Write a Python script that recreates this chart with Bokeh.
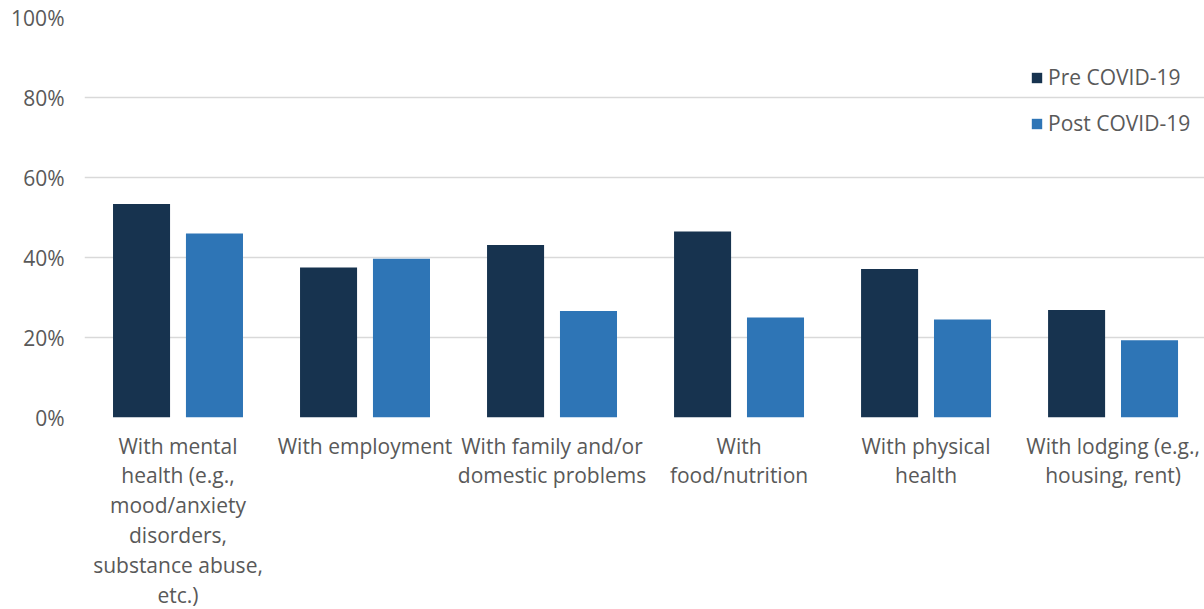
from bokeh.plotting import figure
from bokeh.models import ColumnDataSource, FixedTicker, Range1d, Legend, LegendItem
from bokeh.embed import file_html
from bokeh.resources import INLINE

categories = [
    "With mental\nhealth (e.g.,\nmood/anxiety\ndisorders,\nsubstance abuse,\netc.)",
    "With employment",
    "With family and/or\ndomestic problems",
    "With\nfood/nutrition",
    "With physical\nhealth",
    "With lodging (e.g.,\nhousing, rent)",
]
series_names = ["Pre COVID-19", "Post COVID-19"]
pre_values = [0.534, 0.375, 0.431, 0.465, 0.371, 0.269]
post_values = [0.460, 0.397, 0.266, 0.250, 0.245, 0.193]
y_ticks = [0, 0.2, 0.4, 0.6, 0.8, 1.0]
y_tick_labels = ["0%", "20%", "40%", "60%", "80%", "100%"]

PRE_COLOR = "#17334F"
POST_COLOR = "#2E75B6"
TEXT_COLOR = "#595959"
GRID_COLOR = "#D9D9D9"
FONT = "Open Sans"

centers = [i + 0.5 for i in range(len(categories))]
offset = 0.195
bar_w = 0.305

src_pre = ColumnDataSource(dict(x=[c - offset for c in centers], top=pre_values))
src_post = ColumnDataSource(dict(x=[c + offset for c in centers], top=post_values))

p = figure(frame_width=1120, frame_height=400, output_backend="svg", toolbar_location=None,
           x_range=Range1d(0, 5.989), y_range=Range1d(0, 1.0),
           min_border_left=84, min_border_right=0, min_border_top=17, min_border_bottom=0)
p.outline_line_color = None
p.background_fill_color = "white"
p.border_fill_color = "white"

r_pre = p.vbar(x="x", top="top", width=bar_w, bottom=0, source=src_pre,
               fill_color=PRE_COLOR, line_color=None)
r_post = p.vbar(x="x", top="top", width=bar_w, bottom=0, source=src_post,
                fill_color=POST_COLOR, line_color=None)

# axes
p.xaxis.ticker = FixedTicker(ticks=centers)
p.xaxis.major_label_overrides = {c: lab for c, lab in zip(centers, categories)}
p.xaxis.axis_line_color = None
p.xaxis.major_tick_line_color = None
p.xaxis.minor_tick_line_color = None
p.xaxis.major_label_text_font = FONT
p.xaxis.major_label_text_font_size = "21px"
p.xaxis.major_label_text_color = TEXT_COLOR
p.xaxis.major_label_text_line_height = 1.07
p.xaxis.major_label_standoff = 8
p.xgrid.grid_line_color = None

p.yaxis.ticker = FixedTicker(ticks=y_ticks)
p.yaxis.major_label_overrides = {t: l for t, l in zip(y_ticks, y_tick_labels)}
p.yaxis.axis_line_color = None
p.yaxis.major_tick_line_color = None
p.yaxis.minor_tick_line_color = None
p.yaxis.major_label_text_font = FONT
p.yaxis.major_label_text_font_size = "21px"
p.yaxis.major_label_text_color = TEXT_COLOR
p.yaxis.major_label_standoff = 14
p.ygrid.grid_line_color = GRID_COLOR
p.ygrid.grid_line_width = 1.5
p.ygrid.ticker = FixedTicker(ticks=y_ticks)

legend = Legend(items=[LegendItem(label=series_names[0], renderers=[r_pre]),
                       LegendItem(label=series_names[1], renderers=[r_post])],
                location=(946, 280))
legend.glyph_width = 13
legend.glyph_height = 13
legend.label_height = 24
legend.spacing = 18
legend.padding = 0
legend.margin = 0
legend.label_standoff = 5
legend.border_line_color = None
legend.background_fill_alpha = 0
legend.label_text_font = FONT
legend.label_text_font_size = "21px"
legend.label_text_color = TEXT_COLOR
p.add_layout(legend, "center")

open("out.html", "w").write(file_html(p, INLINE))
